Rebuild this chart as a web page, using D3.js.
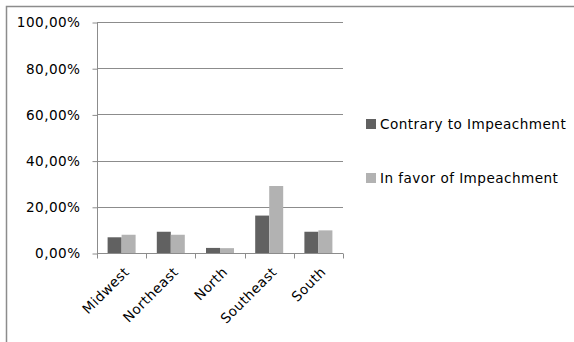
<!DOCTYPE html>
<html>
<head>
<meta charset="utf-8">
<script src="https://cdn.jsdelivr.net/npm/d3@7"></script>
<style>
  body { margin: 0; background: #fff; }
  text { font-family: "DejaVu Sans", sans-serif; fill: #000; letter-spacing: 0.45px; }
</style>
</head>
<body>
<div id="chart"></div>
<script>
// ---- data ----
const regions = ["Midwest", "Northeast", "North", "Southeast", "South"]
const seriesNames = ["Contrary to Impeachment", "In favor of Impeachment"]
const contrary = [0.068, 0.092, 0.022, 0.162, 0.092]
const inFavor = [0.079, 0.079, 0.021, 0.290, 0.098]
const yTicks = [0, 0.2, 0.4, 0.6, 0.8, 1]
const colors = ["#616161", "#b2b2b2"]

// ---- settings ----
const width = 574, height = 342
const plot = { left: 97, right: 343, top: 22, bottom: 253 }
const fontSize = "13.6px"

const svg = d3.select("#chart").append("svg")
  .attr("width", width)
  .attr("height", height)

// outer frame (only top + left show in the shot)
svg.append("rect")
  .attr("x", 6.5).attr("y", 6.5)
  .attr("width", width + 10).attr("height", height + 10)
  .attr("fill", "none").attr("stroke", "#8c8c8c").attr("stroke-width", 1.5)

const x = d3.scaleBand().domain(regions).range([plot.left, plot.right])
const y = d3.scaleLinear().domain([0, 1]).range([plot.bottom, plot.top])
const barW = 14

const fmt = v => d3.format(".2f")(v * 100).replace(".", ",") + "%"

// gridlines
svg.append("g").selectAll("line")
  .data(yTicks.filter(d => d > 0))
  .enter().append("line")
  .attr("x1", plot.left).attr("x2", plot.right)
  .attr("y1", d => Math.round(y(d)) + 0.5).attr("y2", d => Math.round(y(d)) + 0.5)
  .attr("stroke", "#8c8c8c")

// y axis
const yAxis = svg.append("g")
  .attr("transform", `translate(${plot.left + 0.5},0.5)`)
  .call(d3.axisLeft(y).tickValues(yTicks).tickFormat(fmt).tickSize(5).tickPadding(12))
yAxis.select(".domain").attr("stroke", "#8c8c8c").attr("d", `M0,${y(1)}V${y(0)}`)
yAxis.selectAll(".tick line").attr("stroke", "#8c8c8c")
yAxis.selectAll("text").style("font-size", fontSize).style("font-family", '"DejaVu Sans", sans-serif').attr("fill", "#000")

// bars
const groups = [contrary, inFavor]
groups.forEach((vals, i) => {
  svg.append("g").selectAll("rect")
    .data(vals)
    .enter().append("rect")
    .attr("x", (d, j) => x(regions[j]) + x.bandwidth() / 2 - barW + i * barW)
    .attr("y", d => y(d))
    .attr("width", barW)
    .attr("height", d => y(0) - y(d))
    .attr("fill", colors[i])
})

// x axis
const xAxis = svg.append("g")
  .attr("transform", `translate(0,${plot.bottom + 0.5})`)
xAxis.append("line")
  .attr("x1", plot.left).attr("x2", plot.right)
  .attr("stroke", "#8c8c8c")
const edges = regions.map(r => x(r)).concat([plot.right])
xAxis.selectAll(".tk").data(edges).enter().append("line")
  .attr("x1", d => Math.round(d) + 0.5).attr("x2", d => Math.round(d) + 0.5)
  .attr("y1", 0).attr("y2", 5)
  .attr("stroke", "#8c8c8c")
xAxis.selectAll("text").data(regions).enter().append("text")
  .attr("transform", d => `translate(${x(d) + x.bandwidth() / 2 + 5},${16}) rotate(-45)`)
  .attr("text-anchor", "end")
  .attr("dy", "0.35em")
  .style("font-size", fontSize)
  .text(d => d)

// legend
const legend = svg.append("g")
seriesNames.forEach((name, i) => {
  const ly = 124 + i * 54
  legend.append("rect")
    .attr("x", 366).attr("y", ly - 5)
    .attr("width", 10).attr("height", 10)
    .attr("fill", colors[i])
  legend.append("text")
    .attr("x", 380).attr("y", ly)
    .attr("dy", "0.35em")
    .style("font-size", fontSize)
    .text(name)
})
</script>
</body>
</html>
